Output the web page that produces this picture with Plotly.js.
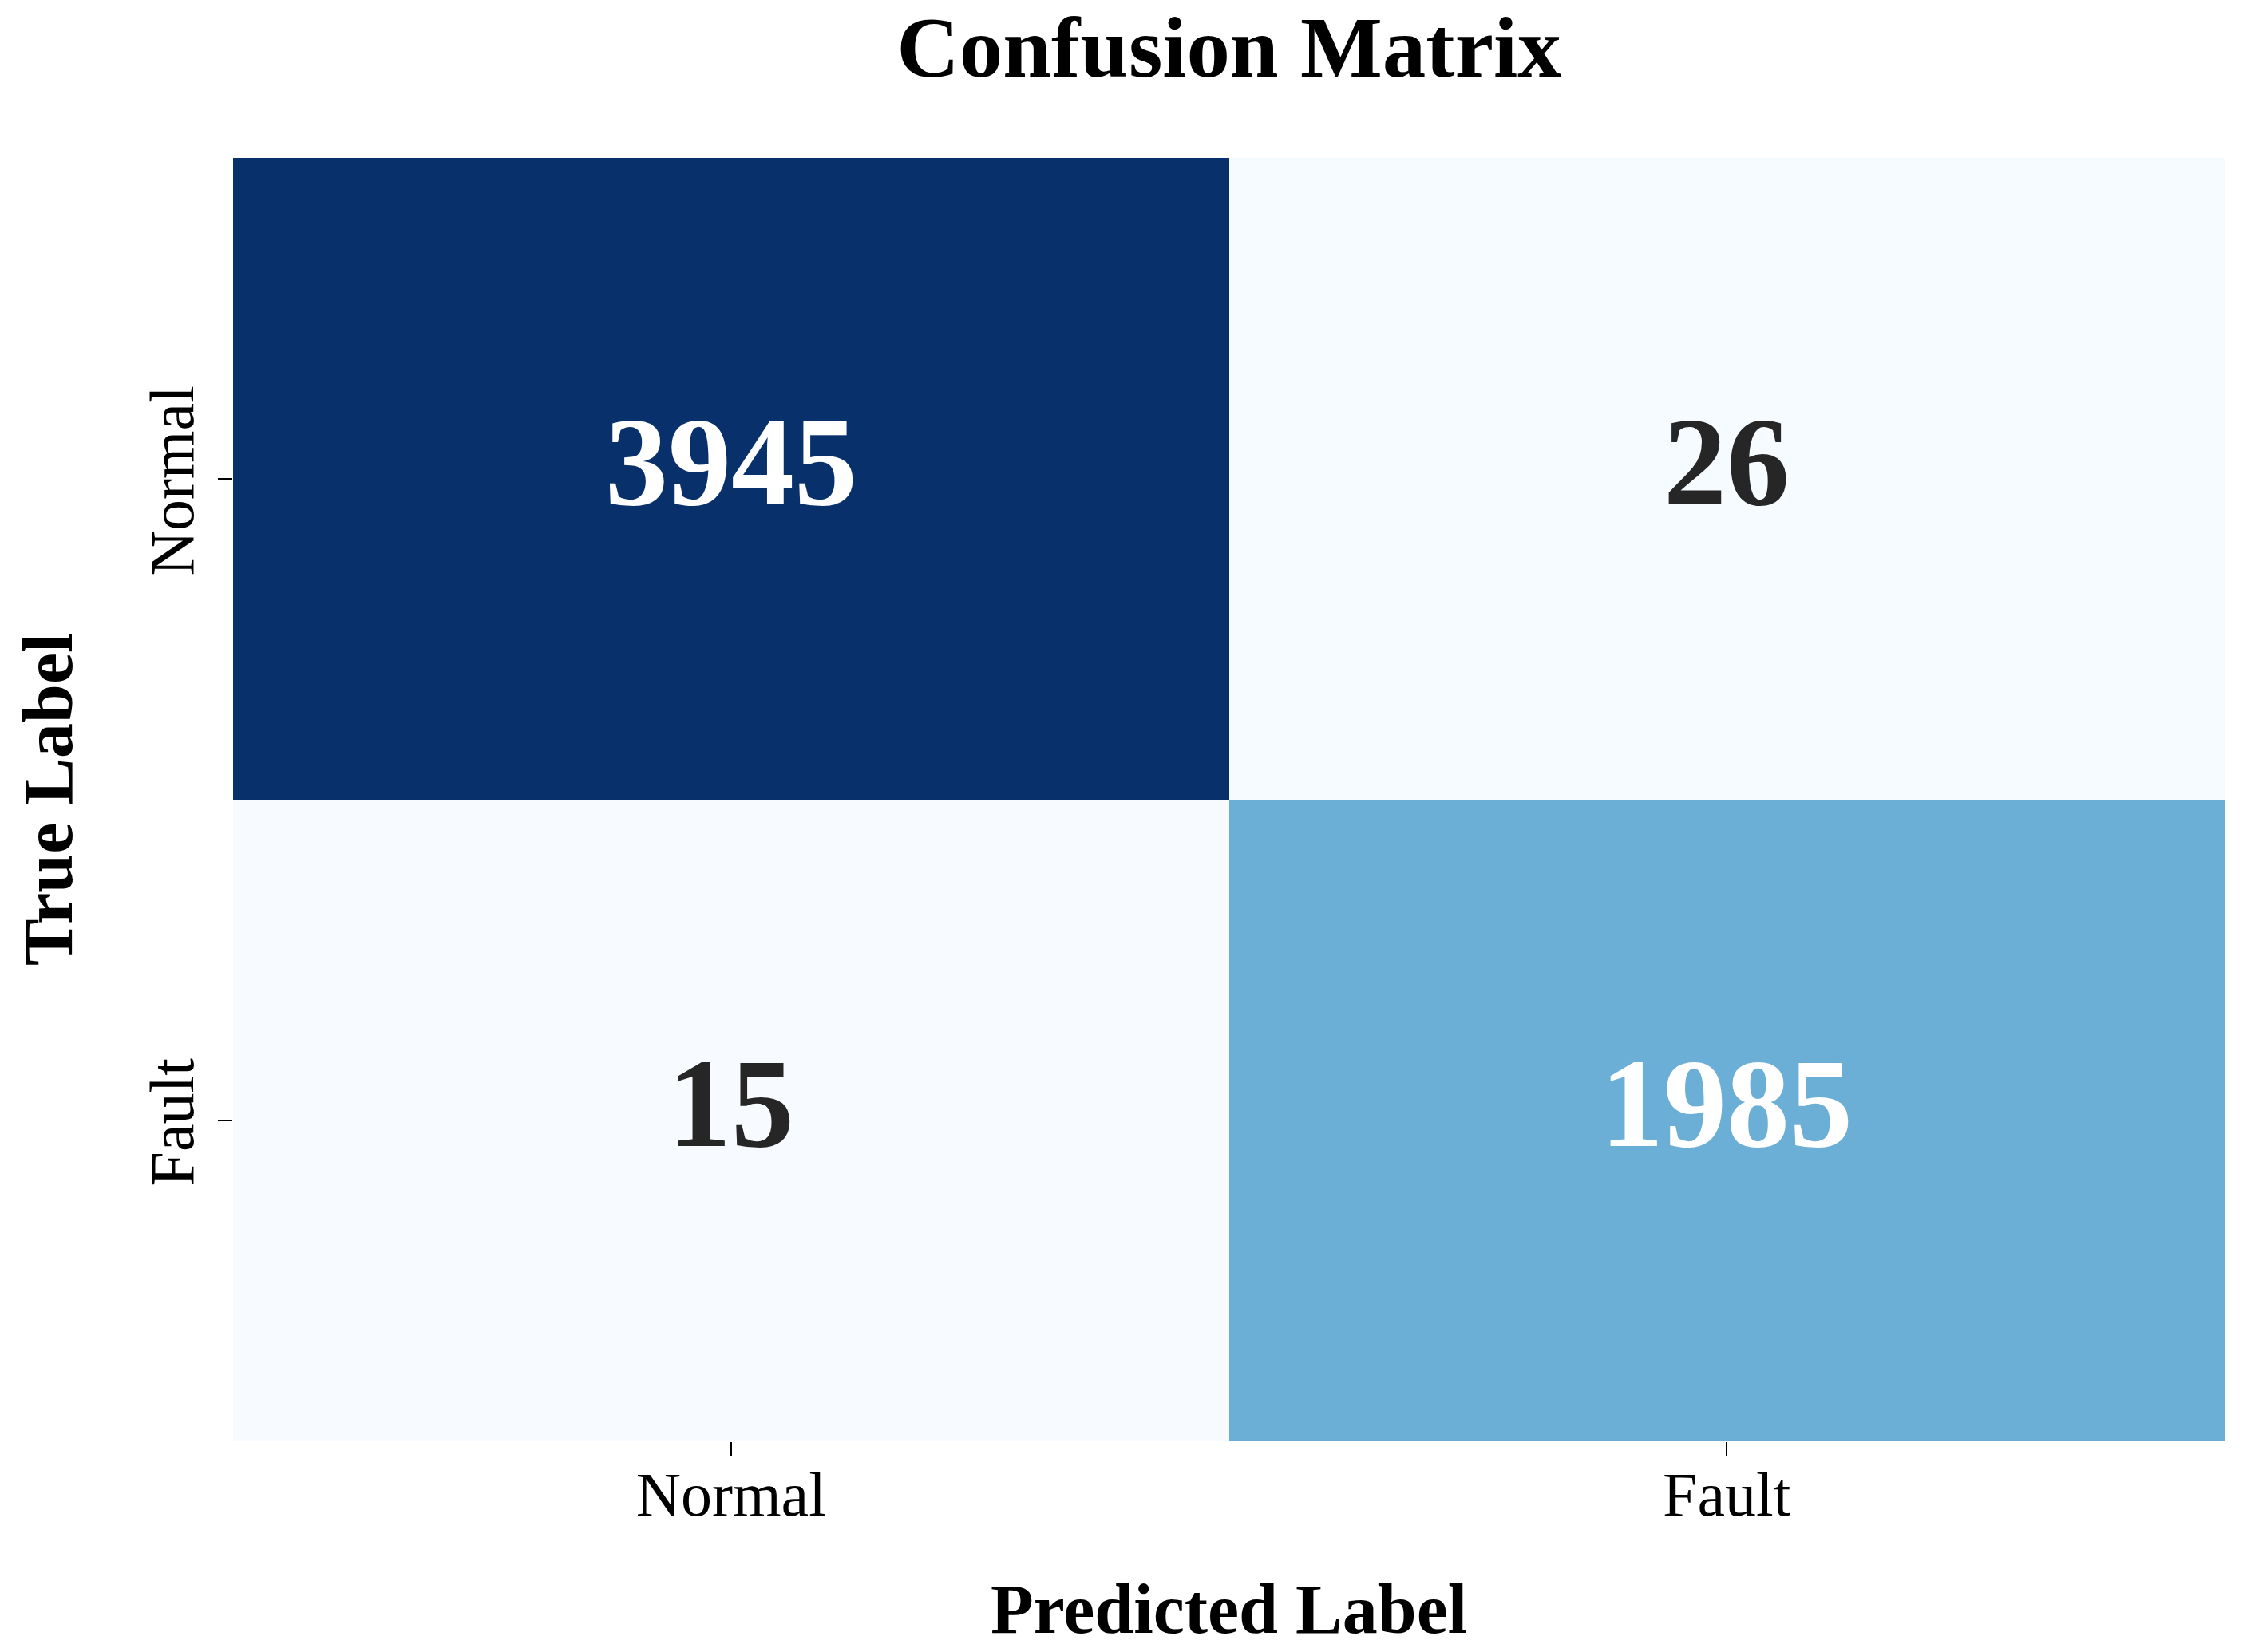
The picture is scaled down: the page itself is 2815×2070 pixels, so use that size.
<!DOCTYPE html>
<html>
<head>
<meta charset="utf-8">
<script src="https://cdn.plot.ly/plotly-3.0.1.min.js"></script>
<style>html,body{margin:0;padding:0;background:#fff;}</style>
</head>
<body>
<div id="chart" style="width:2815px;height:2070px;"></div>
<script>
const predictedLabels = ['Normal', 'Fault'];
const trueLabels = ['Normal', 'Fault'];
const counts = [
  [3945, 26],
  [15, 1985]
];

const blues = [
  [0.0, '#f7fbff'], [0.125, '#deebf7'], [0.25, '#c6dbef'], [0.375, '#9ecae1'],
  [0.5, '#6baed6'], [0.625, '#4292c6'], [0.75, '#2171b5'], [0.875, '#08519c'], [1.0, '#08306b']
];

const flat = counts.flat();
const zmin = Math.min(...flat), zmax = Math.max(...flat);
const serif = 'Liberation Serif, Times New Roman, serif';

const annotations = [];
for (let i = 0; i < trueLabels.length; i++) {
  for (let j = 0; j < predictedLabels.length; j++) {
    const v = counts[i][j];
    const frac = (v - zmin) / (zmax - zmin);
    annotations.push({
      x: predictedLabels[j], y: trueLabels[i], xref: 'x', yref: 'y',
      text: '<b>' + v + '</b>', showarrow: false, yshift: 22,
      font: {family: serif, size: 158, color: frac > 0.4 ? '#ffffff' : '#262626'}
    });
  }
}
annotations.push({
  text: '<b>True Label</b>', xref: 'paper', yref: 'paper', x: -0.093, y: 0.5,
  xanchor: 'center', yanchor: 'middle', textangle: -90, showarrow: false,
  font: {family: serif, size: 88, color: '#000'}
});
annotations.push({
  text: '<b>Predicted Label</b>', xref: 'paper', yref: 'paper', x: 0.5, y: -0.131,
  xanchor: 'center', yanchor: 'middle', showarrow: false,
  font: {family: serif, size: 88, color: '#000'}
});

const data = [{
  type: 'heatmap',
  x: predictedLabels, y: trueLabels, z: counts,
  zmin: zmin, zmax: zmax,
  colorscale: blues, showscale: false, hoverinfo: 'skip'
}];

const layout = {
  width: 2815, height: 2070,
  margin: {l: 292, r: 28, t: 198, b: 264},
  paper_bgcolor: '#fff', plot_bgcolor: '#fff',
  font: {family: serif, color: '#000'},
  title: {
    text: '<b>Confusion Matrix</b>', x: 0.5, xref: 'paper',
    y: 1 - 58 / 2070, yref: 'container', yanchor: 'middle',
    font: {family: serif, size: 109, color: '#000'}
  },
  xaxis: {
    type: 'category', ticks: 'outside', ticklen: 18, tickwidth: 2, tickcolor: '#000',
    ticklabelstandoff: -20,
    tickfont: {family: serif, size: 78, color: '#000'},
    showgrid: false, zeroline: false, showline: false, fixedrange: true
  },
  yaxis: {
    type: 'category', autorange: 'reversed', ticks: 'outside', ticklen: 18, tickwidth: 2, tickcolor: '#000',
    tickangle: -90, ticklabelshift: -14,
    tickfont: {family: serif, size: 78, color: '#000'},
    showgrid: false, zeroline: false, showline: false, fixedrange: true
  },
  annotations: annotations
};

Plotly.newPlot('chart', data, layout, {displayModeBar: false, staticPlot: true});
</script>
</body>
</html>
